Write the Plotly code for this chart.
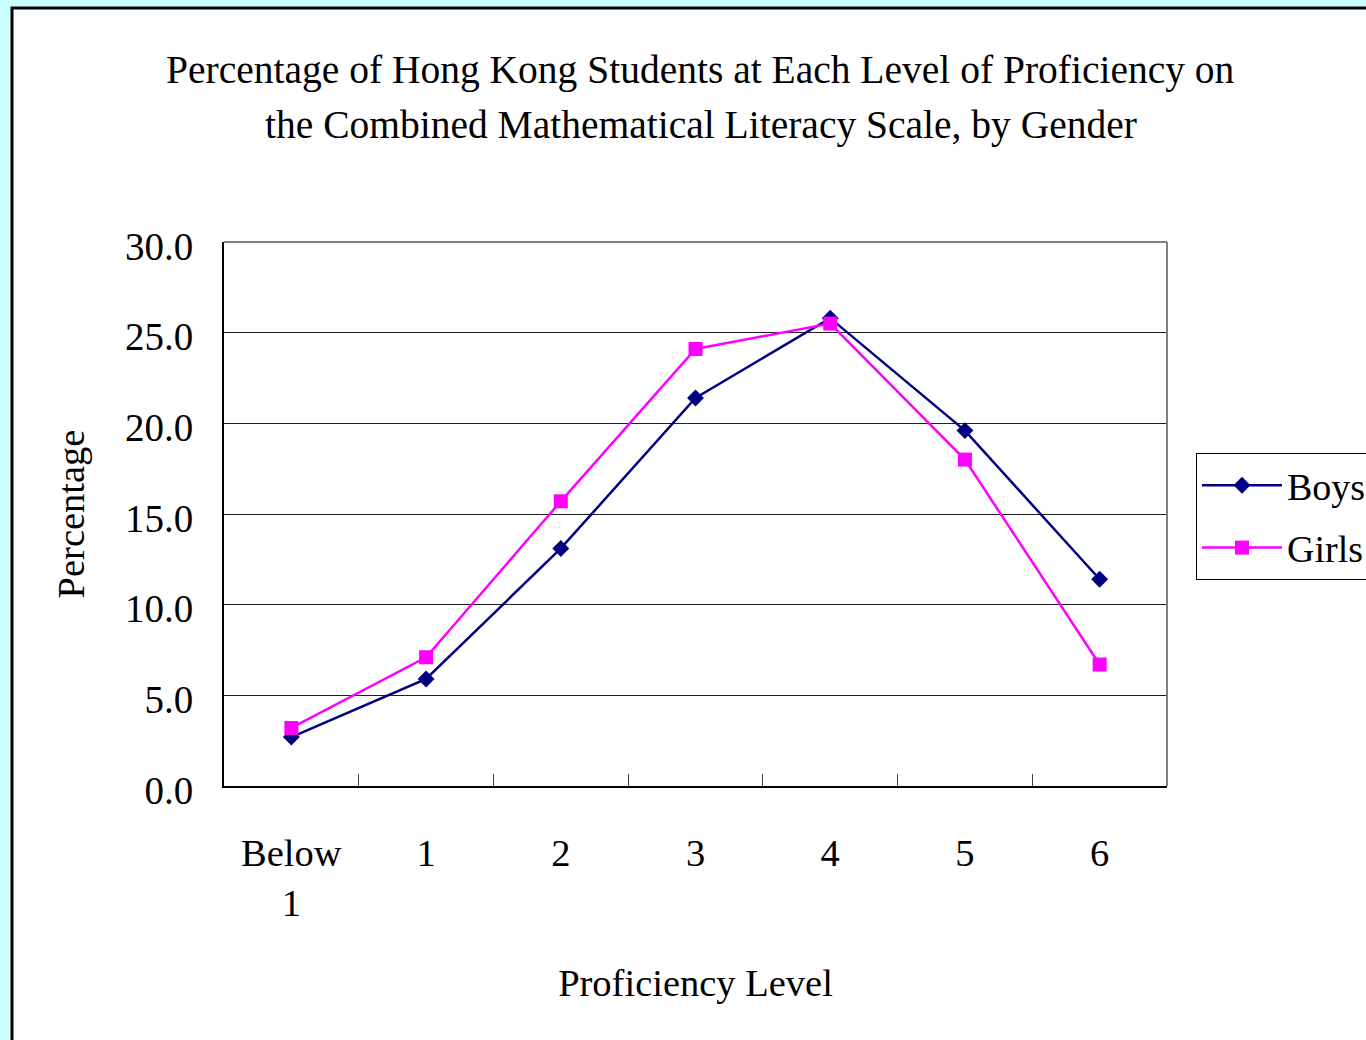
import plotly.graph_objects as go

# Proficiency levels and percentage of students at each level
levels = ["Below<br>1", "1", "2", "3", "4", "5", "6"]
boys = [2.7, 5.9, 13.1, 21.4, 25.8, 19.6, 11.4]
girls = [3.2, 7.1, 15.7, 24.1, 25.5, 18.0, 6.7]

title_lines = [
    "Percentage of Hong Kong Students at Each Level of Proficiency on",
    "the Combined Mathematical Literacy Scale, by Gender",
]

FONT = "Liberation Serif, Times New Roman, serif"
W, H = 1366, 1040
L, R, T, B = 224, 1167, 242, 786  # plot area edges in px


def px_x(px):
    return (px - L) / (R - L)


def px_y(py):
    return (B - py) / (B - T)


fig = go.Figure()
fig.add_trace(go.Scatter(
    x=levels, y=boys, name="Boys", mode="lines+markers",
    line=dict(color="#000080", width=2.5),
    marker=dict(symbol="diamond", size=13, color="#000080"),
    legendgroup="b",
))
fig.add_trace(go.Scatter(
    x=levels, y=girls, name="Girls", mode="lines+markers",
    line=dict(color="#ff00ff", width=2.5),
    marker=dict(symbol="square", size=14, color="#ff00ff"),
    legendgroup="g",
))

shapes = [
    # white chart sheet with dark frame
    dict(type="rect", xref="paper", yref="paper", layer="below",
         x0=px_x(12), x1=px_x(1500), y0=px_y(1200), y1=px_y(8),
         fillcolor="white", line=dict(color="black", width=3)),
    # grey top and right edges of the plot area
    dict(type="line", xref="paper", yref="paper", x0=0, x1=1, y0=1, y1=1,
         line=dict(color="#808080", width=2)),
    dict(type="line", xref="paper", yref="paper", x0=1, x1=1, y0=0, y1=1,
         line=dict(color="#808080", width=2)),
]

annotations = [
    dict(text=title_lines[0], xref="paper", yref="paper",
         x=px_x(700), y=px_y(70), xanchor="center", yanchor="middle",
         showarrow=False, font=dict(family=FONT, size=39.5, color="black")),
    dict(text=title_lines[1], xref="paper", yref="paper",
         x=px_x(701), y=px_y(125), xanchor="center", yanchor="middle",
         showarrow=False, font=dict(family=FONT, size=39.5, color="black")),
]

fig.update_layout(
    width=W, height=H,
    margin=dict(l=L, r=W - R, t=T, b=H - B, pad=0, autoexpand=False),
    paper_bgcolor="#ccffff",
    plot_bgcolor="white",
    font=dict(family=FONT, size=38, color="black"),
    shapes=shapes,
    annotations=annotations,
    showlegend=True,
    legend=dict(
        x=px_x(1196), y=px_y(453), xanchor="left", yanchor="top",
        bgcolor="white", bordercolor="black", borderwidth=1,
        font=dict(family=FONT, size=38, color="black"),
        traceorder="grouped", tracegroupgap=10, itemwidth=80,
    ),
)

fig.update_xaxes(
    type="category", range=[-0.5, 6.5],
    showline=True, linecolor="black", linewidth=2,
    showgrid=False, zeroline=False,
    ticks="inside", ticklen=12, tickwidth=1, tickcolor="#404040",
    tickson="boundaries", ticklabelstandoff=32,
    tickfont=dict(family=FONT, size=38.5, color="black"),
    title=dict(text="Proficiency Level", standoff=46,
               font=dict(family=FONT, size=38.5, color="black")),
)
fig.update_yaxes(
    range=[0, 30], dtick=5, tickformat=".1f",
    showline=True, linecolor="black", linewidth=2,
    showgrid=True, gridcolor="#202020", gridwidth=1,
    zeroline=False, ticks="", ticklabelstandoff=21, ticklabelshift=4,
    tickfont=dict(family=FONT, size=39, color="black"),
    title=dict(text="Percentage", standoff=28,
               font=dict(family=FONT, size=38.5, color="black")),
)

fig.write_html("out.html")
